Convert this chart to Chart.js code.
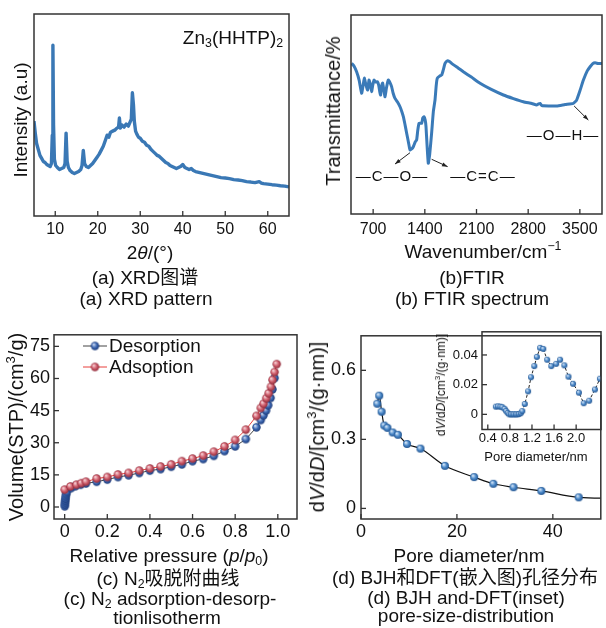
<!DOCTYPE html>
<html>
<head>
<meta charset="utf-8">
<script src="https://cdn.jsdelivr.net/npm/chart.js@4.4.0/dist/chart.umd.min.js"></script>
<style>
body { margin: 0; background: #fff; }
#fig { position: relative; width: 606px; height: 628px; overflow: hidden; background: #fff;
       font-family: "Liberation Sans", Arial, "Noto Sans CJK SC", sans-serif; color: #111; }
#fig canvas { position: absolute; }
.t { position: absolute; white-space: nowrap; line-height: 1; transform: translate(-50%, -50%); z-index: 5; }
.rot { transform: translate(-50%, -50%) rotate(-90deg); }
.t sub { font-size: 0.65em; vertical-align: -0.25em; line-height: 0; }
.t sup { font-size: 0.65em; vertical-align: 0.6em; line-height: 0; }
.cap { font-size: 19px; }
.ttl { font-size: 19px; }
.bond { font-size: 15px; letter-spacing: 1px; }
</style>
</head>
<body>
<div id="fig">
  <canvas id="chartA" width="303" height="264" style="left:0;top:0"></canvas>
  <canvas id="chartB" width="303" height="264" style="left:303px;top:0"></canvas>
  <canvas id="chartC" width="303" height="247" style="left:0;top:320px"></canvas>
  <canvas id="chartD" width="303" height="247" style="left:303px;top:320px"></canvas>
  <canvas id="chartE" width="176" height="150" style="left:430px;top:320px"></canvas>

  <!-- (a) -->
  <div class="t ttl" style="left:233px;top:37px">Zn<sub>3</sub>(HHTP)<sub>2</sub></div>
  <div class="t ttl rot" style="left:20px;top:120px">Intensity (a.u)</div>
  <div class="t ttl" style="left:150px;top:252px">2<i>θ</i>/(°)</div>
  <div class="t cap" style="left:145px;top:277px">(a) XRD图谱</div>
  <div class="t cap" style="left:146px;top:298px">(a) XRD pattern</div>

  <!-- (b) -->
  <div class="t ttl rot" style="left:333px;top:111px;font-size:20px">Transmittance/%</div>
  <div class="t ttl" style="left:483px;top:251px">Wavenumber/cm<sup>−1</sup></div>
  <div class="t cap" style="left:472px;top:277px">(b)FTIR</div>
  <div class="t cap" style="left:472px;top:298px">(b) FTIR spectrum</div>
  <div class="t bond" style="left:392px;top:175px">—C—O—</div>
  <div class="t bond" style="left:483px;top:175px">—C=C—</div>
  <div class="t bond" style="left:563px;top:134px">—O—H—</div>

  <!-- (c) -->
  <div class="t ttl rot" style="left:16px;top:427px;font-size:20px">Volume(STP)/(cm<sup>3</sup>/g)</div>
  <div class="t ttl" style="left:169px;top:555px">Relative pressure (<i>p</i>/<i>p</i><sub>0</sub>)</div>
  <div class="t cap" style="left:168px;top:578px">(c) N<sub>2</sub>吸脱附曲线</div>
  <div class="t cap" style="left:170px;top:598px">(c) N<sub>2</sub> adsorption-desorp-</div>
  <div class="t cap" style="left:167px;top:617px">tionlisotherm</div>

  <!-- (d) -->
  <div class="t ttl rot" style="left:317px;top:427px;font-size:20px">d<i>V</i>/d<i>D</i>/[cm<sup>3</sup>/(g·nm)]</div>
  <div class="t ttl" style="left:469px;top:555px">Pore diameter/nm</div>
  <div class="t cap" style="left:465px;top:577px">(d) BJH和DFT(嵌入图)孔径分布</div>
  <div class="t cap" style="left:466px;top:597px">(d) BJH and-DFT(inset)</div>
  <div class="t cap" style="left:466px;top:615px">pore-size-distribution</div>
  <div class="t rot" style="left:441px;top:385px;font-size:12px">d<i>V</i>/d<i>D</i>/[cm<sup>3</sup>/(g·nm)]</div>
  <div class="t" style="left:536px;top:456px;font-size:13px">Pore diameter/nm</div>
</div>

<script>
// ---- (a) XRD pattern ----
const xrdAngle = [5.0,5.3,5.6,6.0,6.4,6.8,7.2,7.6,8.0,8.4,
  8.8,9.1,9.3,9.45,9.6,9.8,10.1,10.5,11.0,11.5,
  12.0,12.3,12.55,12.8,13.1,13.5,14.0,14.5,15.0,15.5,
  16.0,16.3,16.6,16.9,17.3,17.8,18.3,18.8,19.3,19.8,
  20.3,20.8,21.3,21.8,22.2,22.6,23.0,23.5,24.0,24.5,
  24.9,25.1,25.3,25.7,26.2,26.7,27.2,27.6,27.9,28.15,
  28.4,28.6,28.9,29.2,29.6,30.0,30.5,31.0,31.5,32.0,
  32.5,33.0,33.5,34.0,34.5,35.0,35.5,36.0,36.5,37.0,
  37.5,38.0,38.5,39.0,39.5,40.0,40.5,41.0,41.5,42.0,
  42.5,43.0,44.0,45.0,46.0,47.0,48.0,49.0,50.0,51.0,
  52.0,53.0,54.0,55.0,56.0,57.0,58.0,58.5,59.0,60.0,
  61.0,62.0,63.0,64.0,65.0];
const xrdIntensity = [47,41,36,33,30,28.5,27,26.5,25.5,25,
  24.5,26,40,84.5,45,28,25,24,23,23.5,
  24,26,41,27,24,22.5,21.5,21,21.5,22,
  23,25,32.5,26,24.5,24,25,26,27.5,29,
  30.5,32.5,34.5,37.5,40,39,41.5,42,42.5,43.5,
  44,48.5,43.5,45,44,45.5,44.5,46.5,48,61,
  55,47,42,40.5,39,38.5,37,36.5,35,34.5,
  33,32,31,30,29.5,28.5,27.5,26.5,26,25,
  24.5,24,23.5,24,24.5,25.5,24,23.5,23,23.5,
  22.5,22,21.5,21,20.5,20,19.5,19,18.8,18.5,
  18,17.8,17.5,17,16.8,16.5,17,16.3,16,15.8,
  15.5,15.3,15,14.8,14.4];
const xrdTicks = [10, 20, 30, 40, 50, 60];

// ---- (b) FTIR ----
const ftirWavenumber = [408,440,476,510,544,565,580,600,625,644,
  660,679,695,712,735,756,775,790,801,815,
  828,845,861,880,905,925,950,970,996,1030,
  1064,1090,1109,1130,1154,1180,1199,1222,1244,1270,
  1289,1305,1322,1357,1372,1389,1405,1416,1430,1447,
  1465,1492,1515,1538,1555,1569,1600,1628,1650,1674,
  1705,1735,1763,1850,1922,2030,2148,2300,2464,2600,
  2735,2850,2915,2940,2961,2985,3080,3186,3300,3412,
  3440,3457,3500,3548,3600,3639,3675,3706,3750,3800];
const ftirTransmittance = [75.7,74.4,71.5,67.3,60.7,64.8,68.3,65.3,62.3,67.3,
  65.3,61.5,64.8,67.3,66.3,66.5,64.8,61.3,59.8,64.3,
  65.8,62.3,58.9,63.3,67.3,66.3,64,60.8,58.1,56.3,
  53.9,51.3,48.9,45.2,40.6,35.7,32.2,32.7,33.8,36.2,
  37.2,42.2,45.6,45.6,48.2,48.9,47.2,43.9,34.7,25.5,
  29.6,40.6,51.3,57.3,64.8,68.2,69.3,69.8,72.4,75.7,
  77,76.6,75.7,73.4,71.5,68.8,65.7,62.6,59.8,58,
  56.4,55.5,54.8,55.3,55.6,54.5,54.3,54.3,55,55.6,
  56.5,57.3,61.8,67.3,71.9,74,75.6,76,75.6,75.7];
const ftirTicks = [700, 1400, 2100, 2800, 3500];
// arrows: [from wavenumber, from T, to wavenumber, to T]
const ftirArrows = [[1199, 30.8, 996, 25.1], [1492, 27.5, 1709, 23.8], [3422, 54.3, 3615, 47.2]];

// ---- (c) N2 isotherm ----
const desPressure = [0.0005,0.001,0.002,0.003,0.004,0.005,0.007,0.01,
  0.03,0.05,0.075,0.1,0.15,0.2,0.25,0.3,0.35,0.4,0.45,0.5,0.55,0.6,
  0.65,0.7,0.75,0.8,0.85,0.9,0.92,0.933,0.945,0.955,0.966,0.975,0.985];
const desVolume = [0.3,1.2,2.2,3.1,4.0,5.0,6.0,7.0,
  8.8,9.7,10.4,11.0,11.8,12.8,14.0,14.8,15.9,17.0,17.7,18.8,19.9,21.4,
  22.4,23.9,26.1,28.3,31.7,37.2,40.6,42.8,45.0,47.5,50.9,54.9,60.2];
const adsPressure = [0.0,0.027,0.055,0.078,0.1,0.15,0.2,0.25,0.3,0.35,
  0.4,0.45,0.5,0.55,0.6,0.65,0.7,0.75,0.8,0.85,
  0.9,0.92,0.933,0.946,0.957,0.968,0.975,0.985,0.995];
const adsVolume = [8.1,9.6,10.4,11.1,11.8,13.3,14.0,15.2,15.9,17.0,
  18.0,18.9,19.9,21.4,22.6,24.0,25.8,28.3,31.3,36.1,
  42.5,46.2,48.2,50.8,53.1,56.1,59.3,63.0,66.7];
const isoXTicks = [0, 0.2, 0.4, 0.6, 0.8, 1.0];
const isoXLabels = ['0', '0.2', '0.4', '0.6', '0.8', '1.0'];
const isoYTicks = [0, 15, 30, 45, 60, 75];

// ---- (d) BJH and DFT (inset) ----
const bjhDiameter = [3.4,3.8,4.3,4.85,5.5,6.6,7.7,9.6,12.4,17.5,23.6,27.6,31.8,37.6,45.4,55];
const bjhDvdD = [0.455,0.49,0.42,0.36,0.35,0.33,0.32,0.28,0.26,0.185,0.136,0.107,0.092,0.076,0.048,0.043];
const bjhXTicks = [0, 20, 40];
const bjhYTicks = [0, 0.3, 0.6];
const bjhYLabels = ['0', '0.3', '0.6'];
const dftDiameter = [0.546,0.586,0.628,0.663,0.704,0.733,0.762,0.79,0.82,0.849,
  0.879,0.909,0.937,0.967,0.997,1.025,1.07,1.13,1.183,1.242,
  1.288,1.347,1.405,1.475,1.55,1.638,1.709,1.786,1.861,1.944,
  2.05,2.137,2.235,2.34,2.43];
const dftDvdD = [0.0052,0.0054,0.0052,0.0048,0.0037,0.0022,0.0009,0,0,0,
  0,0,0,0.0002,0.0008,0.0022,0.007,0.0155,0.025,0.0325,
  0.0387,0.0448,0.0441,0.0368,0.0325,0.034,0.0368,0.033,0.0254,0.0206,
  0.0146,0.0075,0.0092,0.0167,0.024];
const dftXTicks = [0.4, 0.8, 1.2, 1.6, 2.0];
const dftXLabels = ['0.4', '0.8', '1.2', '1.6', '2.0'];
const dftYTicks = [0, 0.02, 0.04];
const dftYLabels = ['0', '0.02', '0.04'];

const FONT = '"Liberation Sans", Arial, sans-serif';
Chart.defaults.font.family = FONT;
Chart.defaults.color = '#111';

const pts = (xs, ys) => xs.map((x, i) => ({ x: x, y: ys[i] }));

// shaded ball used as marker
function ball(r, light, mid, dark) {
  const c = document.createElement('canvas');
  const s = Math.ceil(r * 2 + 2);
  c.width = c.height = s;
  const g = c.getContext('2d');
  const gr = g.createRadialGradient(s / 2 - r * 0.35, s / 2 - r * 0.4, r * 0.1, s / 2, s / 2, r);
  gr.addColorStop(0, light);
  gr.addColorStop(0.55, mid);
  gr.addColorStop(1, dark);
  g.fillStyle = gr;
  g.beginPath();
  g.arc(s / 2, s / 2, r, 0, Math.PI * 2);
  g.fill();
  return c;
}

function axis(o) {
  return {
    type: 'linear',
    min: o.min,
    max: o.max,
    grid: { display: false, drawTicks: false },
    border: { display: false },
    afterBuildTicks: s => { s.ticks = (o.ticks || []).map(v => ({ value: v })); },
    afterFit: s => {
      if (o.width != null) s.width = o.width;
      if (o.height != null) s.height = o.height;
    },
    ticks: {
      display: !!o.ticks,
      autoSkip: false,
      maxRotation: 0,
      padding: o.pad || 0,
      color: '#111',
      font: { size: o.size || 16 },
      callback: (v, i) => (o.labels ? o.labels[i] : v)
    }
  };
}

// frame + inward tick marks
const framePlugin = {
  id: 'frame',
  afterDatasetsDraw(chart) {
    const ctx = chart.ctx, a = chart.chartArea;
    ctx.save();
    ctx.strokeStyle = '#333';
    ctx.lineWidth = 1.3;
    ['x', 'y'].forEach(id => {
      const s = chart.scales[id];
      if (!s || !s.options.ticks.display) return;
      s.ticks.forEach(t => {
        const p = s.getPixelForValue(t.value);
        ctx.beginPath();
        if (id === 'x') { ctx.moveTo(p, a.bottom); ctx.lineTo(p, a.bottom - 5); }
        else { ctx.moveTo(a.left, p); ctx.lineTo(a.left + 5, p); }
        ctx.stroke();
      });
    });
    ctx.lineWidth = 1.5;
    ctx.strokeRect(a.left, a.top, a.right - a.left, a.bottom - a.top);
    ctx.restore();
  }
};

const arrowPlugin = {
  id: 'arrows',
  afterDatasetsDraw(chart, args, opts) {
    if (!opts || !opts.list) return;
    const ctx = chart.ctx, sx = chart.scales.x, sy = chart.scales.y;
    ctx.save();
    ctx.strokeStyle = '#222';
    ctx.fillStyle = '#222';
    ctx.lineWidth = 1;
    opts.list.forEach(a => {
      const x1 = sx.getPixelForValue(a[0]), y1 = sy.getPixelForValue(a[1]);
      const x2 = sx.getPixelForValue(a[2]), y2 = sy.getPixelForValue(a[3]);
      const ang = Math.atan2(y2 - y1, x2 - x1);
      ctx.beginPath();
      ctx.moveTo(x1, y1);
      ctx.lineTo(x2, y2);
      ctx.stroke();
      ctx.beginPath();
      ctx.moveTo(x2, y2);
      ctx.lineTo(x2 - 6 * Math.cos(ang - 0.35), y2 - 6 * Math.sin(ang - 0.35));
      ctx.lineTo(x2 - 6 * Math.cos(ang + 0.35), y2 - 6 * Math.sin(ang + 0.35));
      ctx.closePath();
      ctx.fill();
    });
    ctx.restore();
  }
};

const lineLegend = {
  id: 'lineLegend',
  afterDraw(chart, args, opts) {
    if (!opts || !opts.items) return;
    const ctx = chart.ctx;
    ctx.save();
    ctx.font = '19px ' + FONT;
    ctx.textBaseline = 'middle';
    ctx.fillStyle = '#111';
    chart.data.datasets.forEach((ds, i) => {
      const it = opts.items[i];
      ctx.strokeStyle = ds.borderColor;
      ctx.lineWidth = 1;
      ctx.beginPath();
      ctx.moveTo(it.x, it.y);
      ctx.lineTo(it.x + 24, it.y);
      ctx.stroke();
      const img = ds.pointStyle;
      ctx.drawImage(img, it.x + 12 - img.width / 2, it.y - img.height / 2);
      ctx.fillText(ds.label, it.x + 26, it.y + 1);
    });
    ctx.restore();
  }
};

const base = (padding, scales, pluginOpts) => ({
  responsive: false,
  animation: false,
  devicePixelRatio: 1,
  layout: { padding: padding },
  scales: scales,
  plugins: Object.assign({ legend: { display: false }, tooltip: { enabled: false } }, pluginOpts || {})
});

// (a)
new Chart(document.getElementById('chartA'), {
  type: 'line',
  data: { datasets: [{
    data: pts(xrdAngle, xrdIntensity),
    borderColor: '#3a78b5', borderWidth: 3.4, pointRadius: 0, tension: 0, borderJoinStyle: 'round'
  }] },
  options: base({ left: 0, top: 14, right: 14, bottom: 0 }, {
    x: axis({ min: 5, max: 65, ticks: xrdTicks, height: 48, pad: 4 }),
    y: axis({ min: 0, max: 100, width: 34 })
  }),
  plugins: [framePlugin]
});

// (b)
new Chart(document.getElementById('chartB'), {
  type: 'line',
  data: { datasets: [{
    data: pts(ftirWavenumber, ftirTransmittance),
    borderColor: '#3a7ab8', borderWidth: 3, pointRadius: 0, tension: 0.15, borderJoinStyle: 'round'
  }] },
  options: base({ left: 0, top: 15, right: 4, bottom: 0 }, {
    x: axis({ min: 400, max: 3800, ticks: ftirTicks, height: 50, pad: 6 }),
    y: axis({ min: 0, max: 100, width: 48 })
  }, { arrows: { list: ftirArrows } }),
  plugins: [framePlugin, arrowPlugin]
});

// (c)
const blueBall = ball(4.2, '#c9d6f0', '#3c68b3', '#1d3a78');
const redBall = ball(4.2, '#f6d0d4', '#cf5d6c', '#8f2c3a');
new Chart(document.getElementById('chartC'), {
  type: 'line',
  data: { datasets: [
    { label: 'Desorption', data: pts(desPressure, desVolume), order: 1,
      borderColor: '#444', borderWidth: 1, tension: 0,
      pointStyle: blueBall, pointRadius: 4 },
    { label: 'Adsoption', data: pts(adsPressure, adsVolume), order: 0,
      borderColor: '#e8403c', borderWidth: 1, tension: 0,
      pointStyle: redBall, pointRadius: 4 }
  ] },
  options: base({ left: 0, top: 5, right: 6, bottom: 0 }, {
    x: axis({ min: -0.05, max: 1.09, ticks: isoXTicks, labels: isoXLabels, height: 48, pad: 2, size: 18 }),
    y: axis({ min: -5.6, max: 80.4, ticks: isoYTicks, width: 54, pad: 4, size: 18 })
  }, { lineLegend: { items: [{ x: 83, y: 26 }, { x: 83, y: 47 }] } }),
  plugins: [framePlugin, lineLegend]
});

// (d) BJH
new Chart(document.getElementById('chartD'), {
  type: 'line',
  data: { datasets: [{
    data: pts(bjhDiameter, bjhDvdD),
    borderColor: '#111', borderWidth: 1.2, cubicInterpolationMode: 'monotone',
    pointStyle: ball(4, '#d6e6f7', '#4a88c9', '#22548f'), pointRadius: 4
  }] },
  options: base({ left: 0, top: 8, right: 1.5, bottom: 0 }, {
    x: axis({ min: 0, max: 50, ticks: bjhXTicks, height: 48, pad: 2, size: 18 }),
    y: axis({ min: -0.046, max: 0.75, ticks: bjhYTicks, labels: bjhYLabels, width: 58, pad: 5, size: 18 })
  }),
  plugins: [framePlugin]
});

// (d) inset DFT
new Chart(document.getElementById('chartE'), {
  type: 'line',
  data: { datasets: [{
    data: pts(dftDiameter, dftDvdD),
    borderColor: '#222', borderWidth: 1, borderDash: [3, 2], tension: 0,
    pointStyle: ball(3, '#d6e6f7', '#4a88c9', '#22548f'), pointRadius: 3
  }] },
  options: base({ left: 0, top: 8, right: 1.5, bottom: 0 }, {
    x: axis({ min: 0.295, max: 2.45, ticks: dftXTicks, labels: dftXLabels, height: 40.5, pad: 1, size: 13 }),
    y: axis({ min: -0.0102, max: 0.0556, ticks: dftYTicks, labels: dftYLabels, width: 52, pad: 4, size: 13 })
  }),
  plugins: [framePlugin]
});
</script>
</body>
</html>
